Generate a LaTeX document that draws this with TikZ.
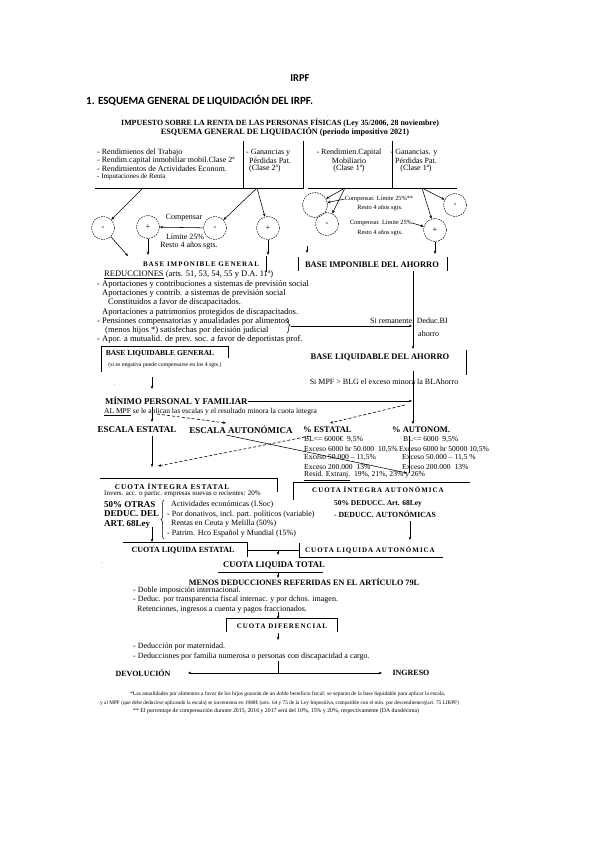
\documentclass[tikz,border=0pt]{standalone}
\usepackage{fontspec}
\setmainfont{Liberation Serif}
\newfontfamily\hdfont{Carlito}
\newfontfamily\spfont[LetterSpace=14]{Liberation Serif}
\usetikzlibrary{arrows.meta,decorations.pathreplacing}
\tikzset{
  txt/.style={inner sep=0pt, anchor=west, font=\fontsize{8}{9}\selectfont},
  ctxt/.style={inner sep=0pt, font=\fontsize{8}{9}\selectfont},
  redt/.style={inner sep=0pt, anchor=west, font=\fontsize{8.5}{9}\selectfont},
  hd/.style={inner sep=0pt, font=\bfseries\fontsize{8}{9}\selectfont},
  hdw/.style={hd, anchor=west},
  sph/.style={inner sep=0pt, font=\spfont\bfseries\fontsize{7.3}{8}\selectfont},
  sml/.style={inner sep=0pt, anchor=west, font=\fontsize{7.5}{8}\selectfont},
  csml/.style={inner sep=0pt, font=\fontsize{6.3}{7}\selectfont},
  tbl/.style={inner sep=0pt, anchor=west, font=\fontsize{7.6}{8}\selectfont},
  fn/.style={inner sep=0pt, anchor=west, font=\fontsize{5.5}{6}\selectfont},
  circ/.style={circle, draw, dash pattern=on 1.6pt off 1pt, line width=0.5pt, minimum size=23pt, inner sep=0pt, font=\fontsize{8.5}{9}\selectfont},
  ar/.style={-{Stealth[length=3.2pt,width=2.6pt]}, line width=0.55pt},
  ln/.style={line width=0.7pt},
  dsh/.style={dash pattern=on 3pt off 2pt, line width=0.6pt},
}
\begin{document}
\begin{tikzpicture}[x=1pt,y=-1pt]
\useasboundingbox (0,0) rectangle (599,848);
\fill[white] (0,0) rectangle (599,848);

% titles
\node[inner sep=0pt, font=\hdfont\bfseries\fontsize{10.5}{11}\selectfont] (title) at (300,78) {IRPF};
\node[inner sep=0pt, anchor=west, font=\hdfont\bfseries\fontsize{11}{12}\selectfont] (head) at (86,101) {1. ESQUEMA GENERAL DE LIQUIDACIÓN DEL IRPF.};
\node[inner sep=0pt, font=\fontsize{5}{5}\selectfont] (dot1) at (122,116) {.};
\node[inner sep=0pt, font=\fontsize{5}{5}\selectfont] (dot2) at (328,116) {.};

% header
\node[hd, anchor=west, font=\bfseries\fontsize{7.9}{8}\selectfont] (imp) at (121,123) {IMPUESTO SOBRE LA RENTA DE LAS PERSONAS FÍSICAS (Ley 35/2006, 28 noviembre)};
\node[hd, font=\bfseries\fontsize{8.2}{9}\selectfont] (esq) at (285,132) {ESQUEMA GENERAL DE LIQUIDACIÓN (periodo impositivo 2021)};

% top boxes
\draw[ln] (95,188) -- (303,188) -- (303,141);
\draw[ln] (243,141) -- (243,188);
\draw[ln] (308,188) -- (457,188);
\draw[ln] (392,141) -- (392,188);

\node[txt] (r1t) at (97,153) {- Rendimienos del Trabajo};
\node[txt] (r2t) at (97,161) {- Rendim.capital inmobiliar mobil.Clase 2ª};
\node[txt] (r3t) at (97,169) {- Rendimientos de Actividades Econom.};
\node[sml, font=\fontsize{7}{8}\selectfont] (r4t) at (97,177) {- Imputaciones de Renta};
\node[txt] (g1t) at (246,153) {- Ganancias y};
\node[txt] (g2t) at (249,161) {Pérdidas Pat.};
\node[txt] (g3t) at (249,169) {(Clase 2ª)};
\node[ctxt] (m1t) at (349,153) {- Rendimien.Capital};
\node[ctxt] (m2t) at (349,161) {Mobiliario};
\node[ctxt] (m3t) at (349,169) {(Clase 1ª)};
\node[ctxt] (p1t) at (414,153) {- Ganancias. y};
\node[ctxt] (p2t) at (416,161) {Pérdidas Pat.};
\node[ctxt] (p3t) at (416,169) {(Clase 1ª)};

% left circles
\node[circ] (c1) at (103,228) {-};
\node[circ] (c2) at (148,227) {+};
\node[circ] (c3) at (215,228) {-};
\node[circ] (c4) at (268,228) {+};
\coordinate (b1) at (143,188);
\coordinate (b2) at (257,188);
\draw[ar] (b1) -- (c1);
\draw[ar] (b2) -- (c3);
\draw[ar] (b2) -- (c4);
\draw[ar] (c3) -- (c2);
\node[ctxt] (comp) at (184,218) {Compensar};
\node[ctxt] (lim) at (185,237) {Límite 25\%};
\node[ctxt] (resto) at (189,246) {Resto 4 años sgts.};
\coordinate (big1) at (128,256);
\coordinate (big2) at (148,255);
\coordinate (big3) at (268,255);
\draw[ar] (c1) -- (big1);
\draw[ar] (c2) -- (big2);
\draw[ar] (c4) -- (big3);

% right circles
\node[circ, minimum size=25pt] (q1) at (315,205) {};
\node[circ] (q2) at (327,224) {-};
\node[circ] (q3) at (455,205) {-};
\node[circ] (q4) at (435,230) {+};
\coordinate (b3) at (345,188);
\coordinate (b4) at (422,188);
\draw[ar] (b3) -- (q1);
\draw[ar] (b3) -- (q2);
\draw[ar] (b4) -- (q3);
\draw[ar] (b4) -- (q4);
\node[csml] (ca1) at (379,199) {Compensar. Límite 25\%**};
\node[csml] (ca2) at (380,208) {Resto 4 años sgts.};
\node[csml] (ca3) at (381,223) {Compensar. Límite 25\%};
\node[csml] (ca4) at (380,233) {Resto 4 años sgts.};
\draw[ar] (ca1.west) -- (q1);
\draw[ar] (ca3.east) -- (q4);
\coordinate (bia1) at (435,254);
\draw[ar] (q4) -- (bia1);
\coordinate (sa1) at (307,246);
\coordinate (sa2) at (307,253);
\draw[ar] (sa1) -- (sa2);

% bases imponibles
\node[sph, font=\spfont\bfseries\fontsize{7}{8}\selectfont] (big) at (201,264) {BASE IMPONIBLE GENERAL};
\node[hd, font=\bfseries\fontsize{8.5}{9}\selectfont] (bia) at (372,265) {BASE IMPONIBLE DEL AHORRO};
\draw[ln] (266,256) -- (266,272);
\draw[ln] (298,257) -- (298,271);
\draw[ln] (447,257) -- (447,271);

% reducciones
\node[redt] (red0) at (104,275) {\underline{REDUCCIONES} (arts. 51, 53, 54, 55 y D.A. 11ª)};
\node[redt] (red1) at (97,284) {- Aportaciones y contribuciones a sistemas de previsión social};
\node[redt] (red2) at (102,293) {Aportaciones y contrib. a sistemas de previsión social};
\node[redt] (red3) at (108,302) {Constituidos a favor de discapacitados.};
\node[redt] (red4) at (102,312) {Aportaciones a patrimonios protegidos de discapacitados.};
\node[redt] (red5) at (97,321) {- Pensiones compensatorias y anualidades por alimentos};
\node[redt] (red6) at (105,330) {(menos hijos *) satisfechas por decisión judicial};
\node[redt] (red7) at (97,339) {- Apor. a mutualid. de prev. soc. a favor de deportistas prof.};
\draw[decorate, decoration={brace, amplitude=3pt}, line width=0.5pt] (287,318) -- (287,333);
\coordinate (brt) at (291,326);
\coordinate (bre) at (412,326);
\draw[ar] (brt) -- (bre);
\node[sml, font=\fontsize{8}{9}\selectfont] (rem) at (370,321) {Si remanente. Deduc.BI};
\node[sml, font=\fontsize{8}{9}\selectfont] (remb) at (418,334) {ahorro};
\coordinate (va1) at (413,271);
\coordinate (va2) at (413,349);
\draw[ar] (va1) -- (va2);

% bases liquidables
\draw[ln] (101,372) -- (101,346) -- (228,346) -- (228,358);
\node[hd, font=\bfseries\fontsize{7.5}{8}\selectfont] (blg) at (160,354) {BASE LIQUIDABLE GENERAL};
\node[csml, font=\fontsize{5.8}{6}\selectfont] (blgn) at (165,365) {(si es negativa puede compensarse en los 4 sgts.)};
\node[hd, font=\bfseries\fontsize{8.5}{9}\selectfont] (bla) at (380,357) {BASE LIQUIDABLE DEL AHORRO};
\draw[ln] (466,350) -- (466,375);
\node[csml, font=\fontsize{8}{9}\selectfont] (mpfn) at (384,382) {Si MPF > BLG el exceso minora la BLAhorro};
\coordinate (blg1) at (152,377);
\coordinate (blg2) at (152,389);
\draw[ar] (blg1) -- (blg2);
\node[inner sep=0pt, font=\fontsize{5}{5}\selectfont] (dot3) at (115,385) {.};

% minimo personal
\node[hdw, font=\bfseries\fontsize{8.8}{9}\selectfont] (mpf) at (105,401) {MÍNIMO PERSONAL Y FAMILIAR};
\coordinate (mpfe) at (412,401);
\draw[ar] (mpf.east) -- (mpfe);
\coordinate (vb1) at (413,371);
\coordinate (vb2) at (413,424);
\draw[ar] (vb1) -- (vb2);
\node[sml] (almpf) at (104,412) {\underline{AL MPF} se le aplican las escalas y el resultado minora la cuota íntegra};
\coordinate (d1s) at (405,405);
\coordinate (d1e) at (330,423);
\draw[ar, dsh] (d1s) -- (d1e);
\coordinate (m1) at (152,407);
\coordinate (m2) at (152,422);
\draw[ar] (m1) -- (m2);
\coordinate (d2s) at (157,414);
\coordinate (d2e) at (226,423);
\draw[ar, dsh] (d2s) -- (d2e);

% escalas
\node[hd, font=\bfseries\fontsize{9}{9}\selectfont] (ee) at (137,430) {ESCALA ESTATAL};
\node[hd, font=\bfseries\fontsize{9}{9}\selectfont] (ea) at (241,430) {ESCALA AUTONÓMICA};
\node[hdw, font=\bfseries\fontsize{8.5}{9}\selectfont] (pe) at (303,430) {\% ESTATAL};
\node[hdw, font=\bfseries\fontsize{8.5}{9}\selectfont] (pa) at (392,430) {\% AUTONOM.};

\node[tbl] (e1) at (304,440) {BL<= 6000€ \ 9,5\%};
\node[tbl] (e2) at (304,449) {Exceso 6000 hr 50.000 \ 10,5\%};
\node[tbl] (e3) at (304,458) {Exceso 50.000 – 11,5\%};
\node[tbl] (e4) at (304,467) {Exceso 200.000 \ 13\%};
\node[tbl] (e5) at (304,476) {\underline{Resid. Extranj.} \ 19\%, 21\%, 23\% y 26\%};
\node[tbl] (a1) at (403,440) {BL<= 6000 \ 9,5\%};
\node[tbl] (a2) at (399,449) {Exceso 6000 hr 50000 10,5\%};
\node[tbl] (a3) at (402,458) {Exceso 50.000 – 11,5 \%};
\node[tbl] (a4) at (402,467) {Exceso 200.000 \ 13\%};

\coordinate (ee1) at (152,436);
\coordinate (ee2) at (152,467);
\draw[ar] (ee1) -- (ee2);
\coordinate (x1s) at (310,436);
\coordinate (x1e) at (158,466);
\draw[ar, dsh] (x1s) -- (x1e);
\coordinate (x2s) at (226,435);
\coordinate (x2e) at (407,473);
\draw[ar] (x2s) -- (x2e);
\coordinate (pa1) at (409,436);
\coordinate (pa2) at (409,473);
\draw[line width=0.55pt] (pa1) -- (pa2);

% cuota integra estatal
\draw[ln] (100,478) -- (277,478) -- (277,492);
\node[sph, font=\spfont\bfseries\fontsize{7.3}{8}\selectfont] (cie) at (172,486) {CUOTA ÍNTEGRA ESTATAL};
\node[sml, font=\fontsize{7}{8}\selectfont] (inv) at (104,494) {Invers. acc. o partic. empresas nuevas o recientes: 20\%};
\node[hdw, font=\bfseries\fontsize{9}{9}\selectfont] (o1) at (104,505) {50\% OTRAS};
\node[hdw, font=\bfseries\fontsize{9}{9}\selectfont] (o2) at (104,514) {DEDUC. DEL};
\node[hdw, font=\bfseries\fontsize{9}{9}\selectfont] (o3) at (104,524) {ART. 68Ley};
\draw[decorate, decoration={brace, amplitude=3pt, mirror}, line width=0.5pt] (164,500) -- (164,539);
\node[txt] (i1) at (171,505) {Actividades económicas (I.Soc)};
\node[txt] (i2) at (167,515) {- Por donativos, incl. part. políticos (variable)};
\node[txt] (i3) at (171,524) {Rentas en Ceuta y Melilla (50\%)};
\node[txt] (i4) at (167,534) {- Patrim. Hco Español y Mundial (15\%)};
\coordinate (cie1) at (152,527);
\coordinate (cie2) at (152,542);
\draw[ar] (cie1) -- (cie2);

% cuota integra autonomica
\draw[ln] (293,500) -- (293,482) -- (470,482);
\node[sph, font=\spfont\bfseries\fontsize{7}{8}\selectfont] (cia) at (378,490) {CUOTA ÍNTEGRA AUTONÓMICA};
\node[hd, font=\bfseries\fontsize{7.5}{8}\selectfont] (ad1) at (378,504) {50\% DEDUCC. Art. 68Ley};
\node[hd, font=\bfseries\fontsize{7.8}{8}\selectfont] (ad2) at (385,514) {- DEDUCC. AUTONÓMICAS};
\coordinate (cia1) at (410,521);
\coordinate (cia2) at (410,540);
\draw[ar] (cia1) -- (cia2);

% cuota liquida
\draw[ln] (123,542) -- (247,542) -- (247,557);
\node[hd] (cle) at (183,550) {CUOTA LIQUIDA ESTATAL};
\draw[ln] (247,550) -- (299,550);
\draw[ln] (299,543) -- (299,557) -- (443,557);
\node[sph, font=\spfont\bfseries\fontsize{7}{8}\selectfont] (cla) at (370,550) {CUOTA LIQUIDA AUTONÓMICA};
\coordinate (cl1) at (278,550);
\coordinate (cl2) at (278,555);
\draw[ar] (cl1) -- (cl2);
\node[inner sep=0pt, font=\fontsize{5}{5}\selectfont] (dot4) at (102,563) {.};
\node[hd, font=\bfseries\fontsize{8.6}{9}\selectfont] (clt) at (274,565) {CUOTA LIQUIDA TOTAL};
\draw[ln] (218,572) -- (323,572);
\coordinate (clt1) at (278,572);
\coordinate (clt2) at (278,578);
\draw[ar] (clt1) -- (clt2);

\node[hd, font=\bfseries\fontsize{8.2}{9}\selectfont] (menos) at (304,582) {MENOS DEDUCCIONES REFERIDAS EN EL ARTÍCULO 79L};
\node[txt] (md1) at (133,591) {- Doble imposición internacional.};
\node[txt] (md2) at (133,600) {- Deduc. por transparencia fiscal internac. y por dchos. imagen.};
\node[txt] (md3) at (137,610) {Retenciones, ingresos a cuenta y pagos fraccionados.};
\coordinate (md4) at (278,612);
\coordinate (md5) at (278,619);
\draw[ar] (md4) -- (md5);

\draw[ln] (226,632) -- (226,618) -- (337,618) -- (337,632);
\node[sph, font=\spfont\bfseries\fontsize{7}{8}\selectfont] (cdif) at (282,626) {CUOTA DIFERENCIAL};
\coordinate (cd1) at (278,633);
\coordinate (cd2) at (278,640);
\draw[ar] (cd1) -- (cd2);
\node[txt] (dm1) at (133,647) {- Deducción por maternidad.};
\node[txt] (dm2) at (133,657) {- Deducciones por familia numerosa o personas con discapacidad a cargo.};
\coordinate (fin1) at (278,661);
\coordinate (fin2) at (278,673);
\draw[line width=0.55pt] (fin1) -- (fin2);
\node[hd] (dev) at (143,673) {DEVOLUCIÓN};
\node[hd] (ing) at (411,673) {INGRESO};
\coordinate (devp) at (188,673);
\coordinate (ingp) at (382,673);
\draw[ar] (fin2) -- (devp);
\draw[ar] (fin2) -- (ingp);

% footnotes
\node[fn] (fn1) at (130,694) {*Las anualidades por alimentos a favor de los hijos gozarán de un doble beneficio fiscal: se separan de la base liquidable para aplicar la escala,};
\node[fn, font=\fontsize{5.3}{6}\selectfont] (fn2) at (100,703) {y al MPF (que debe deducirse aplicando la escala) se incrementa en 1980€ (arts. 64 y 75 de la Ley Impositiva, compatible con el mín. por descendientes)(art. 75 LIRPF)};
\node[fn, font=\fontsize{5.8}{6}\selectfont] (fn3) at (133,711) {** El porcentaje de compensación durante 2015, 2016 y 2017 será del 10\%, 15\% y 20\%, respectivamente (DA duodécima)};
\end{tikzpicture}
\end{document}
